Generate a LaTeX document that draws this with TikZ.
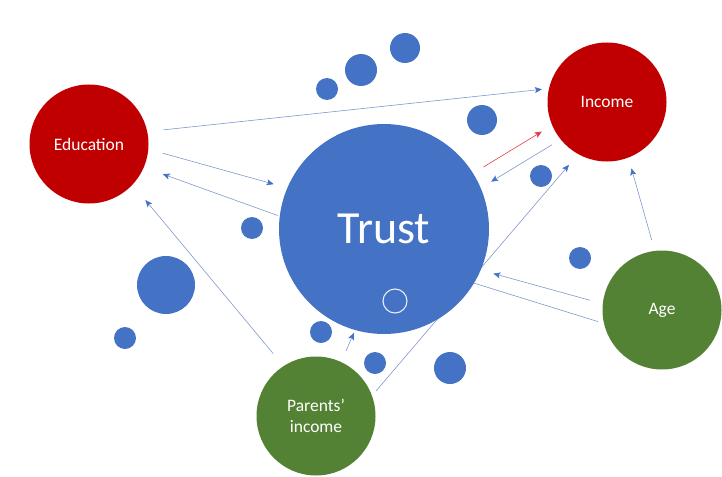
\documentclass[tikz,border=0pt]{standalone}
\usepackage{fontspec}
\setmainfont{Carlito}
\usetikzlibrary{arrows.meta,backgrounds}
\definecolor{incred}{HTML}{C00000}
\definecolor{trustblue}{HTML}{4472C4}
\definecolor{agegreen}{HTML}{548235}
\definecolor{linkblue}{RGB}{128,152,205}
\definecolor{linkred}{RGB}{228,60,70}
\tikzset{
    %Define standard arrow tip
    >={Stealth[length=7pt,width=6pt,inset=1.5pt,color=trustblue]},
    %Define style for circles
    outcome/.style={
           circle,
           fill=incred,
           text=white,
           minimum size=119pt,
           inner sep=0pt,
           font=\fontsize{17.5}{21}\selectfont,
           align=center,
           },
    factor/.style={
           outcome,
           fill=agegreen,
           },
    mediator/.style={
           circle,
           fill=trustblue,
           text=white,
           minimum size=210pt,
           inner sep=0pt,
           font=\fontsize{46}{50}\selectfont,
           },
    bubble/.style={
           circle,
           fill=trustblue,
           inner sep=0pt,
           },
    % Define arrow style
    pil/.style={
           ->,
           draw=linkblue,
           line width=.6pt,
           },
    redpil/.style={
           -{Stealth[length=7pt,width=6pt,inset=1.5pt,color=linkred]},
           draw=linkred,
           line width=.6pt,
           }
}
\begin{document}
\begin{tikzpicture}[x=1pt,y=-1pt]
\useasboundingbox (0,0) rectangle (722,476);

 %nodes
\node[outcome](edu) at (89,144){Education};
\node[outcome](inc) at (607,102){Income};
\node[mediator](trust) at (384,229){Trust};
\node[factor](age) at (662,310){Age};
\node[factor](par) at (316,416){Parents’\\income};
\node[circle, draw=white!88!trustblue, line width=1.1pt, minimum size=24pt, inner sep=0pt](ring) at (395,301){};

 %small circles
\foreach \x/\y/\r [count=\i] in {405/48/15, 361/70/16, 327/89/11, 482/120/15,
    541/176/11, 252/228/11, 166/285/29, 125/338/11, 580/258/11,
    321/332/11, 375/363/11, 450/368/16}
  \node[bubble, minimum size=2*\r pt](b\i) at (\x,\y){};

 %links
\begin{scope}[on background layer]
\draw[pil, shorten <=16pt, shorten >=7pt] (edu.12) -- (inc.167);
\draw[pil, shorten <=15pt, shorten >=14pt] (edu.-5) -- (trust.157);
\draw[pil, shorten <=2pt, shorten >=20pt] (trust.173) -- (edu.-23);
\draw[redpil, shorten <=12pt, shorten >=12pt] (trust.32) -- (inc.203);
\draw[pil, shorten <=10pt, shorten >=12pt] (inc.219) -- (trust.23);
\draw[pil, shorten <=11pt, shorten >=11pt] (age.97) -- (inc.-69);
\draw[pil, shorten <=13pt, shorten >=13pt] (age.174) -- (trust.-23);
\draw[pil, -, shorten <=6pt] (age.193) -- (trust.-31);
\draw[pil, shorten <=16pt, shorten >=20pt] (par.123) -- (edu.-43);
\draw[pil, shorten <=12pt, shorten >=3pt] (par.65) -- (trust.-106);
\draw[pil, shorten <=6pt, shorten >=14pt] (par.20) -- (inc.-119);
\end{scope}

\end{tikzpicture}
\end{document}
